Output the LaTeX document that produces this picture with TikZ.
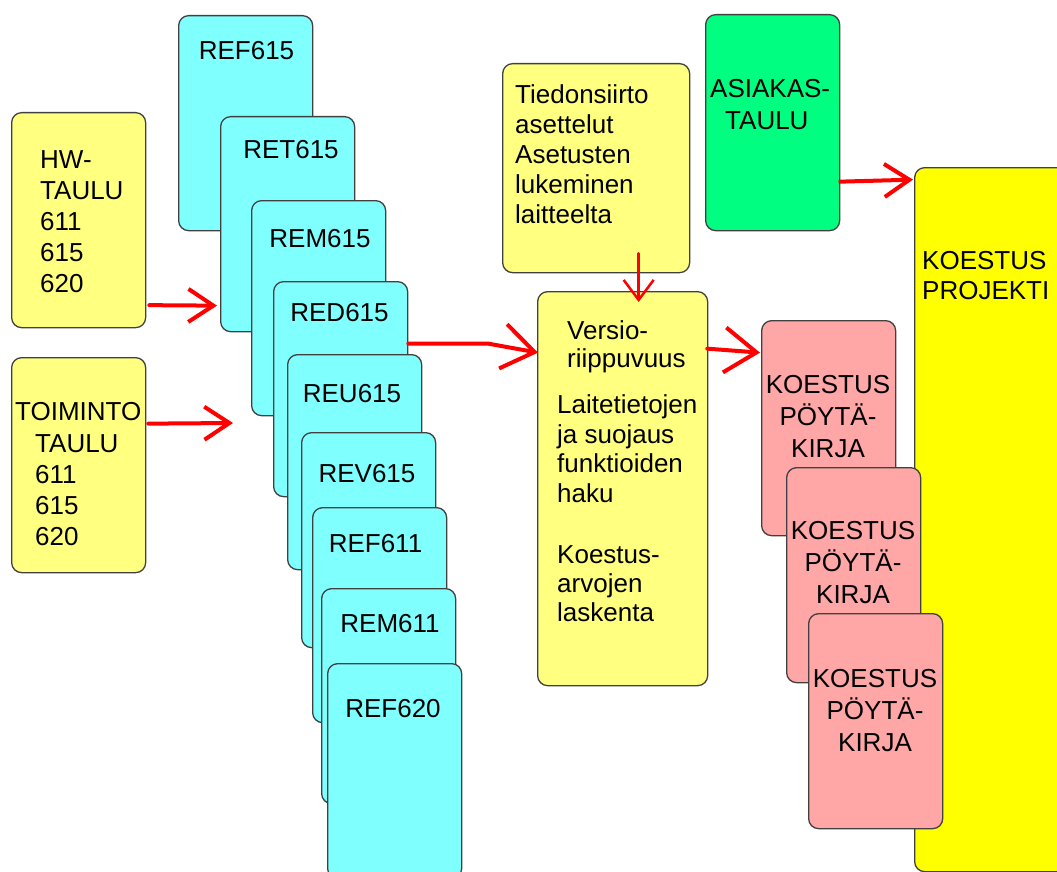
\documentclass[tikz,border=0pt]{standalone}
\usepackage{fontspec}
\setmainfont{Liberation Sans}
\usetikzlibrary{arrows.meta,calc}

\definecolor{paleyellow}{HTML}{FFFF80}
\definecolor{cyanbox}{HTML}{80FFFF}
\definecolor{greenbox}{HTML}{00FF80}
\definecolor{pinkbox}{HTML}{FFA6A6}
\definecolor{brightyellow}{HTML}{FFFF00}
\definecolor{edge}{HTML}{404040}

% multi-line text nodes are placed by the baseline of their last line
\tikzset{
  card/.style={draw=edge, line width=1.3pt, rounded corners=10pt, inner sep=0pt,
    anchor=north west, minimum width=134pt, minimum height=215pt},
  txt/.style={inner sep=0pt, align=left, anchor=base west,
    font=\fontsize{26}{31}\selectfont},
  ctxt/.style={inner sep=0pt, align=center, anchor=base,
    font=\fontsize{26}{32}\selectfont},
  arr/.style={draw=red, line width=4pt, line cap=round, line join=round,
    -{Straight Barb[length=25pt, width=33pt]}},
  bigarr/.style={arr, -{Straight Barb[length=32pt, width=45pt]}},
  thinarr/.style={draw=red, line width=2.5pt, line cap=round,
    -{Straight Barb[length=20pt, width=30pt]}},
}

\begin{document}
\begin{tikzpicture}[x=1pt, y=-1pt]
\useasboundingbox (0,0) rectangle (1057,872);
\clip (0,0) rectangle (1057,872);

% input tables
\node[card, fill=paleyellow] (hw) at (11,112) {};
\node[txt] (hwt) at (40,292) {HW-\\TAULU\\611\\615\\620};
\node[card, fill=paleyellow] (toim) at (11,357) {};
\node[txt] (toimt) at (15,420) {TOIMINTO};
\node[txt] (toimt2) at (35,545) {TAULU\\611\\615\\620};

% relay type stack
\node[card, fill=cyanbox] (ref615) at (178,15) {};
\node[ctxt] (ref615t) at (246.5,60) {REF615};
\node[card, fill=cyanbox] (ret615) at (220,116) {};
\node[ctxt] (ret615t) at (291,158) {RET615};
\node[card, fill=cyanbox] (rem615) at (251,200) {};
\node[ctxt] (rem615t) at (320,247) {REM615};
\node[card, fill=cyanbox] (red615) at (273,281) {};
\node[ctxt] (red615t) at (339.5,321) {RED615};
\node[card, fill=cyanbox] (reu615) at (287,354) {};
\node[ctxt] (reu615t) at (352,402) {REU615};
\node[card, fill=cyanbox] (rev615) at (301,432) {};
\node[ctxt] (rev615t) at (367,482) {REV615};
\node[card, fill=cyanbox] (ref611) at (312,507) {};
\node[ctxt] (ref611t) at (375.5,552) {REF611};
\node[card, fill=cyanbox] (rem611) at (321,588) {};
\node[ctxt] (rem611t) at (390,632) {REM611};
\node[card, fill=cyanbox] (ref620) at (327,663) {};
\node[ctxt] (ref620t) at (393,717) {REF620};

% communication settings
\node[card, fill=paleyellow, minimum width=187pt, minimum height=209pt] (tied) at (502,63) {};
\node[txt, font=\fontsize{26}{30}\selectfont] (tiedt) at (515,223)
  {Tiedonsiirto\\asettelut\\Asetusten\\lukeminen\\laitteelta};

% version handling
\node[card, fill=paleyellow, minimum width=170pt, minimum height=394pt] (versio) at (537,291) {};
\node[txt, font=\fontsize{26}{28}\selectfont] (versiot) at (567,367) {Versio-\\riippuvuus};
\node[txt, font=\fontsize{26}{29.5}\selectfont] (laitet) at (557,502)
  {Laitetietojen\\ja suojaus\\funktioiden\\haku};
\node[txt, font=\fontsize{26}{29}\selectfont] (koestt) at (557,621)
  {Koestus-\\arvojen\\laskenta};

% customer table
\node[card, fill=greenbox, minimum height=216pt] (asiakas) at (705,14) {};
\node[txt] (asiakast) at (710,98) {ASIAKAS-};
\node[txt] (asiakast2) at (725,129) {TAULU};

% test project
\node[card, fill=brightyellow, minimum width=166pt, minimum height=704pt] (proj) at (914,167) {};
\node[txt, font=\fontsize{26}{30}\selectfont] (projt) at (922,299) {KOESTUS\\PROJEKTI};

% test reports
\node[card, fill=pinkbox] (pk1) at (761,320) {};
\node[ctxt] (pk1t) at (828,457) {KOESTUS\\PÖYTÄ-\\KIRJA};
\node[card, fill=pinkbox] (pk2) at (786,467) {};
\node[ctxt] (pk2t) at (853,603) {KOESTUS\\PÖYTÄ-\\KIRJA};
\node[card, fill=pinkbox] (pk3) at (808,613) {};
\node[ctxt] (pk3t) at (875,751) {KOESTUS\\PÖYTÄ-\\KIRJA};

% connectors
\coordinate (toimtip) at (233,423);
\draw[arr] ($(hw.east)+(3,85)$) -- ($(ret615.west)+(-3,81.5)$);
\draw[arr] ($(toim.east)+(2,-41.5)$) -- (toimtip);
\draw[bigarr] ($(red615.east)+(0,-45.5)$) -- ++(80,0) -- ($(versio.west)+(1,-136)$);
\draw[bigarr] ($(versio.east)+(-1,-140)$) -- ($(pk1.west)+(-1,-75.5)$);
\draw[thinarr] ($(tied.south)+(42.5,-20)$) -- ($(versio.north)+(16,11)$);
\draw[arr] ($(asiakas.east)+(0,59)$) -- ($(proj.west)+(-1,-340)$);
\end{tikzpicture}
\end{document}
